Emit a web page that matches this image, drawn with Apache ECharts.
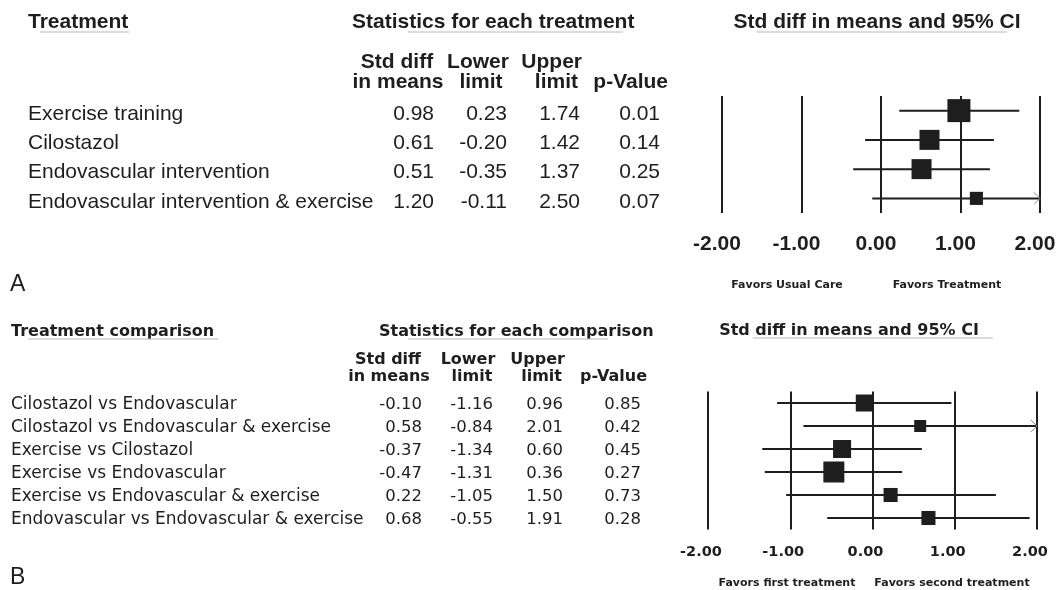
<!DOCTYPE html>
<html><head><meta charset="utf-8">
<script src="https://cdn.jsdelivr.net/npm/echarts@6/dist/echarts.min.js"></script>
<style>html,body{margin:0;padding:0;background:#fff}#c{width:1057px;height:590px}</style>
</head><body><div id="c"></div>
<script>
// ---------- Data ----------
const treatmentsA = ['Exercise training', 'Cilostazol', 'Endovascular intervention', 'Endovascular intervention & exercise'];
const smdA   = [0.98, 0.61, 0.51, 1.20];
const lowerA = [0.23, -0.20, -0.35, -0.11];
const upperA = [1.74, 1.42, 1.37, 2.50];
const pA     = [0.01, 0.14, 0.25, 0.07];
const weightA = [100, 87, 87, 57];   // relative study weight (square size)

const comparisonsB = ['Cilostazol vs Endovascular', 'Cilostazol vs Endovascular & exercise', 'Exercise vs Cilostazol',
  'Exercise vs Endovascular', 'Exercise vs Endovascular & exercise', 'Endovascular vs Endovascular & exercise'];
const smdB   = [-0.10, 0.58, -0.37, -0.47, 0.22, 0.68];
const lowerB = [-1.16, -0.84, -1.34, -1.31, -1.05, -0.55];
const upperB = [0.96, 2.01, 0.60, 0.36, 1.50, 1.91];
const pB     = [0.85, 0.42, 0.45, 0.27, 0.73, 0.28];
const weightB = [81, 57, 86, 100, 67, 67];

const xTicks = [-2, -1, 0, 1, 2];
const xTickLabels = ['-2.00', '-1.00', '0.00', '1.00', '2.00'];

// ---------- Chart ----------
const chart = echarts.init(document.getElementById('c'));
const INK = '#1e1e1e';
const AR = '"Liberation Sans", Arial, sans-serif';
const DV = '"DejaVu Sans", sans-serif';

function forest(idx, smd, lo, up, w, base, lw) {
  return {
    type: 'custom', xAxisIndex: idx, yAxisIndex: idx, clip: false, silent: true,
    data: smd.map((v, i) => [v, i, lo[i], up[i], w[i]]),
    encode: { x: 0, y: 1 },
    renderItem: function (params, api) {
      const yi = api.value(1);
      const l = api.value(2), h = api.value(3);
      const p0 = api.coord([Math.max(l, -2), yi]);
      const p1 = api.coord([Math.min(h, 2), yi]);
      const c = api.coord([api.value(0), yi]);
      const s = base * api.value(4) / 100;
      const ch = [
        { type: 'line', shape: { x1: p0[0], y1: p0[1], x2: p1[0], y2: p1[1] }, style: { stroke: INK, lineWidth: lw } },
        { type: 'rect', shape: { x: c[0] - s / 2, y: c[1] - s / 2, width: s, height: s }, style: { fill: INK } }
      ];
      if (h > 2) {
        ch.push({ type: 'polyline', shape: { points: [[p1[0] - 6, p1[1] - 6], [p1[0], p1[1]], [p1[0] - 6, p1[1] + 6]] },
          style: { stroke: '#8a8a8a', fill: null, lineWidth: 1 } });
      }
      return { type: 'group', children: ch };
    }
  };
}

function xAx(idx, fontFamily, fontSize, margin, shift) {
  return {
    gridIndex: idx, type: 'value', min: -2, max: 2, interval: 1,
    axisLine: { show: false }, axisTick: { show: false },
    splitLine: { show: true, lineStyle: { color: INK, width: 2 } },
    axisLabel: { color: INK, fontWeight: 'bold', fontFamily: fontFamily, fontSize: fontSize, margin: margin,
      formatter: v => '{t|' + xTickLabels[xTicks.indexOf(v)] + '}',
      rich: { t: { color: INK, fontWeight: 'bold', fontFamily: fontFamily, fontSize: fontSize, padding: [0, shift, 0, 0] } } }
  };
}
function yAx(idx, cats) {
  return { gridIndex: idx, type: 'category', data: cats, inverse: true, show: false,
    axisLine: { show: false }, axisTick: { show: false }, splitLine: { show: false } };
}

chart.setOption({
  animation: false,
  grid: [
    { left: 722, width: 318, top: 96, height: 117, outerBoundsMode: 'none', containLabel: false },
    { left: 708, width: 329, top: 391.5, height: 138, outerBoundsMode: 'none', containLabel: false }
  ],
  xAxis: [xAx(0, AR, 21, 21, 10), xAx(1, DV, 14.5, 15, 14)],
  yAxis: [yAx(0, treatmentsA), yAx(1, comparisonsB)],
  series: [forest(0, smdA, lowerA, upperA, weightA, 23, 2), forest(1, smdB, lowerB, upperB, weightB, 21, 2)]
});

function T(text, x, y, font, align) {
  return { type: 'text', x: x, y: y, silent: true,
    style: { text: text, font: font, fill: INK, align: align || 'left', textAlign: align || 'left',
      verticalAlign: 'middle', textVerticalAlign: 'middle' } };
}
function L(x1, x2, y) {
  return { type: 'line', silent: true, shape: { x1: x1, y1: y, x2: x2, y2: y }, style: { stroke: '#b8b8b8', lineWidth: 1 } };
}
const f2 = v => v.toFixed(2);
const g = [];
// --- Panel A ---
const hA = 'bold 21px ' + AR, rA = '21px ' + AR;
g.push(T('Treatment', 28, 22, hA), T('Statistics for each treatment', 352, 22, hA), T('Std diff in means and 95% CI', 877, 22, hA, 'center'));
g.push(L(40, 129, 32), L(408, 623, 32), L(757, 1007, 32));
g.push(T('Std diff', 397, 62, hA, 'center'), T('in means', 398, 82, hA, 'center'));
g.push(T('Lower', 478, 62, hA, 'center'), T('limit', 481, 82, hA, 'center'));
g.push(T('Upper', 582, 62, hA, 'right'), T('limit', 578, 82, hA, 'right'));
g.push(T('p-Value', 668, 82, hA, 'right'));
treatmentsA.forEach((name, i) => {
  const y = chart.convertToPixel({ yAxisIndex: 0 }, i) + 3.5;
  g.push(T(name, 28, y, rA), T(f2(smdA[i]), 434, y, rA, 'right'), T(f2(lowerA[i]), 507, y, rA, 'right'),
    T(f2(upperA[i]), 580, y, rA, 'right'), T(f2(pA[i]), 660, y, rA, 'right'));
});
g.push(T('A', 10, 285, '23px ' + AR));
g.push(T('Favors Usual Care', 787, 285, 'bold 11px ' + DV, 'center'), T('Favors Treatment', 947, 285, 'bold 11px ' + DV, 'center'));
// --- Panel B ---
const hB = 'bold 16px ' + DV, rB = '17px ' + DV, nB = '16.5px ' + DV;
g.push(T('Treatment comparison', 11, 332, hB), T('Statistics for each comparison', 379, 332, hB), T('Std diff in means and 95% CI', 849, 331, hB, 'center'));
g.push(L(28, 218, 339), L(408, 608, 339), L(753, 993, 338));
g.push(T('Std diff', 388, 360, hB, 'center'), T('in means', 389, 377, hB, 'center'));
g.push(T('Lower', 468, 360, hB, 'center'), T('limit', 472, 377, hB, 'center'));
g.push(T('Upper', 565, 360, hB, 'right'), T('limit', 562, 377, hB, 'right'));
g.push(T('p-Value', 647, 377, hB, 'right'));
comparisonsB.forEach((name, i) => {
  const y = chart.convertToPixel({ yAxisIndex: 1 }, i) + 2;
  g.push(T(name, 11, y, rB), T(f2(smdB[i]), 422, y, nB, 'right'), T(f2(lowerB[i]), 493, y, nB, 'right'),
    T(f2(upperB[i]), 563, y, nB, 'right'), T(f2(pB[i]), 641, y, nB, 'right'));
});
g.push(T('B', 10, 578, '23px ' + AR));
g.push(T('Favors first treatment', 787, 583, 'bold 11px ' + DV, 'center'), T('Favors second treatment', 952, 583, 'bold 11px ' + DV, 'center'));

chart.setOption({ graphic: g });
</script>
</body></html>
